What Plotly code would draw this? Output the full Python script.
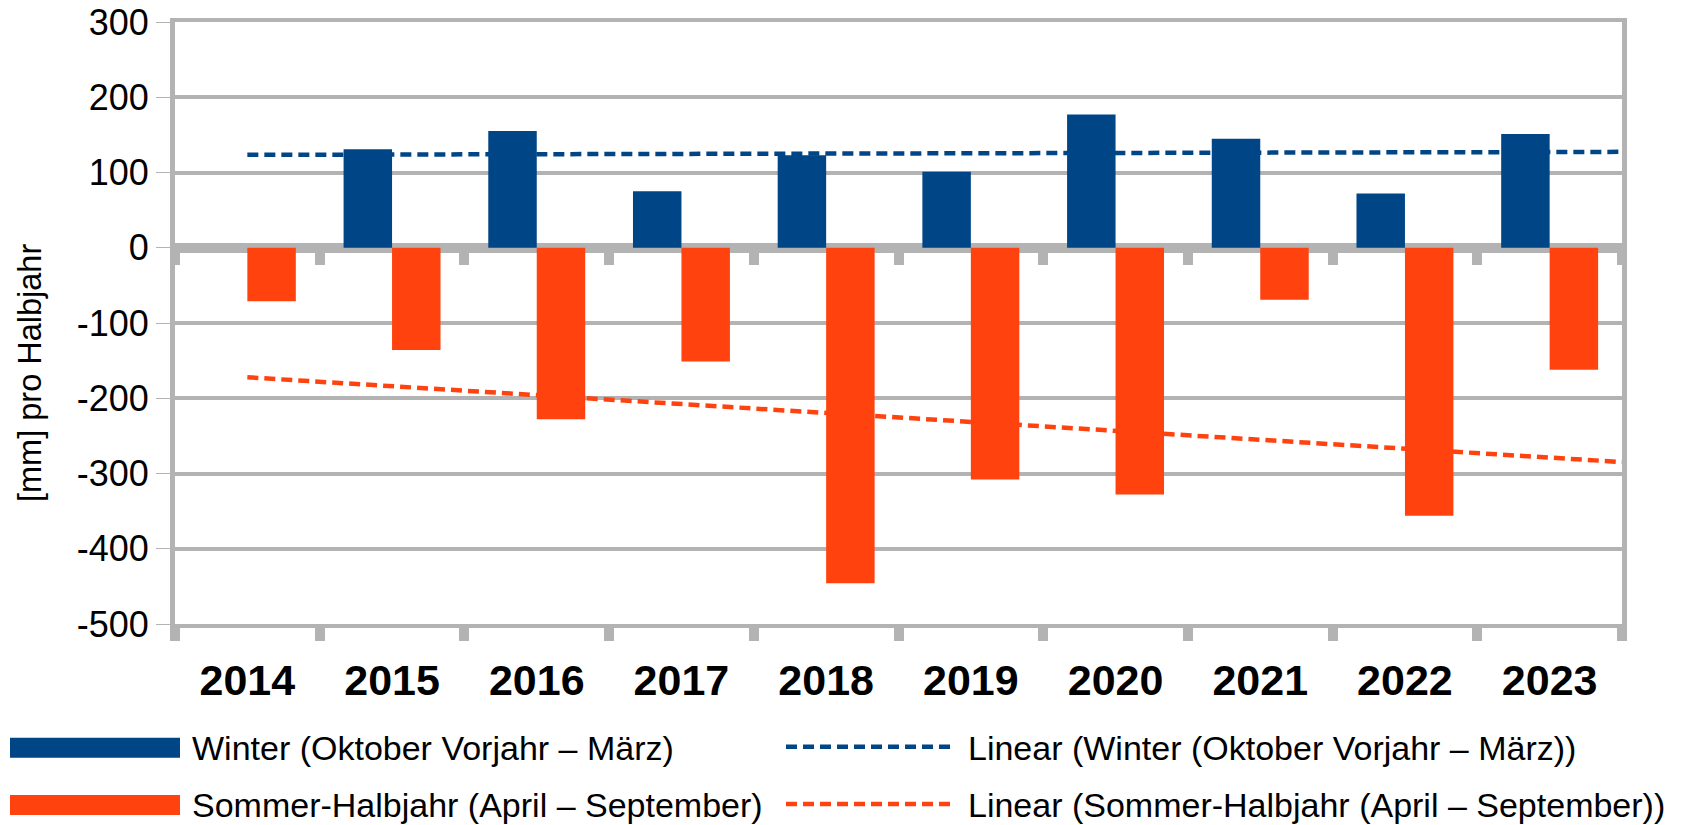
import numpy as np
import plotly.graph_objects as go

# ---------------- data ----------------
years = [2014, 2015, 2016, 2017, 2018, 2019, 2020, 2021, 2022, 2023]
winter = [None, 131, 155, 75, 123, 101, 177, 145, 72, 151]
sommer = [-71, -136, -228, -151, -446, -308, -328, -69, -356, -162]
y_ticks = [300, 200, 100, 0, -100, -200, -300, -400, -500]
name_winter = "Winter (Oktober Vorjahr – März)"
name_sommer = "Sommer-Halbjahr (April – September)"
name_lin_winter = "Linear (Winter (Oktober Vorjahr – März))"
name_lin_sommer = "Linear (Sommer-Halbjahr (April – September))"
y_title = "[mm] pro Halbjahr"

# ---------------- style ----------------
BLUE = "#004586"
ORANGE = "#ff420e"
GRAY = "#b3b3b3"
FONT = "Liberation Sans, Arial, sans-serif"
DASH = "11px,6px"

W, H = 1684, 825
ML, MR, MT, MB = 175, 62, 22, 201
PW, PH = W - ML - MR, H - MT - MB


def px(x):
    return (x - ML) / PW


def py(y):
    return (H - MB - y) / PH


def trend(xs, ys, x_eval):
    pts = [(x, y) for x, y in zip(xs, ys) if y is not None]
    a, b = np.polyfit([p[0] for p in pts], [p[1] for p in pts], 1)
    return [a * x + b for x in x_eval]


trend_x = [years[0], years[-1] + 0.5]
boundaries = [y - 0.5 for y in years] + [years[-1] + 0.5]

fig = go.Figure()
fig.add_trace(go.Bar(x=years, y=winter, name=name_winter,
                     marker=dict(color=BLUE, line=dict(width=0))))
fig.add_trace(go.Bar(x=years, y=sommer, name=name_sommer,
                     marker=dict(color=ORANGE, line=dict(width=0))))
fig.add_trace(go.Scatter(x=trend_x, y=trend(years, winter, trend_x), mode="lines",
                         name=name_lin_winter,
                         line=dict(color=BLUE, width=4.5, dash=DASH)))
fig.add_trace(go.Scatter(x=trend_x, y=trend(years, sommer, trend_x), mode="lines",
                         name=name_lin_sommer,
                         line=dict(color=ORANGE, width=4.5, dash=DASH)))
# helper trace for the tick stubs on the zero axis
fig.add_trace(go.Scatter(x=[], y=[], xaxis="x2", showlegend=False, hoverinfo="skip"))

fig.update_layout(
    width=W, height=H,
    margin=dict(l=ML, r=MR, t=MT, b=MB, pad=0, autoexpand=False),
    paper_bgcolor="white", plot_bgcolor="white",
    barmode="group", bargap=0.33, bargroupgap=0,
    showlegend=False,
    font=dict(family=FONT, color="black"),
    xaxis=dict(
        range=[years[0] - 0.5, years[-1] + 0.5],
        tickmode="array", tickvals=years, ticktext=[str(y) for y in years],
        ticks="", showgrid=False, zeroline=False, automargin=False,
        showline=True, mirror=True, linecolor=GRAY, linewidth=4,
        tickfont=dict(size=43, family=FONT, color="black", weight="bold"),
        ticklabelstandoff=15,
        minor=dict(tickmode="array", tickvals=boundaries, ticks="outside",
                   ticklen=13, tickwidth=10, tickcolor=GRAY, showgrid=False),
    ),
    xaxis2=dict(
        overlaying="x", anchor="free", position=0.625, side="bottom",
        range=[years[0] - 0.5, years[-1] + 0.5], automargin=False,
        tickmode="array", tickvals=boundaries, ticks="outside",
        ticklen=16, tickwidth=10, tickcolor=GRAY,
        showticklabels=False, showgrid=False, zeroline=False, showline=False,
    ),
    yaxis=dict(
        range=[-500, 300], tickmode="array", tickvals=y_ticks,
        ticktext=[str(v) for v in y_ticks], automargin=False,
        showgrid=True, gridcolor=GRAY, gridwidth=4,
        zeroline=True, zerolinecolor=GRAY, zerolinewidth=10,
        showline=True, mirror=True, linecolor=GRAY, linewidth=5,
        ticks="outside", ticklen=14, tickwidth=1.3, tickcolor=GRAY,
        tickfont=dict(size=36, family=FONT, color="black"),
        ticklabelstandoff=0,
    ),
)

# y-axis title
fig.add_annotation(text=y_title, xref="paper", yref="paper", x=px(30), y=py(373),
                   textangle=-90, showarrow=False, xanchor="center", yanchor="middle",
                   font=dict(size=32.5, family=FONT, color="black"))

# manual legend
legend_rows = [747.7, 805]
for (name, color), yc in zip([(name_winter, BLUE), (name_sommer, ORANGE)], legend_rows):
    fig.add_shape(type="rect", xref="paper", yref="paper",
                  x0=px(10), x1=px(180), y0=py(yc + 10), y1=py(yc - 10),
                  fillcolor=color, line=dict(width=0))
    fig.add_annotation(text=name, xref="paper", yref="paper", x=px(190), y=py(yc),
                       showarrow=False, xanchor="left", yanchor="middle",
                       font=dict(size=34, family=FONT, color="black"))
for (name, color), yc in zip([(name_lin_winter, BLUE), (name_lin_sommer, ORANGE)], legend_rows):
    fig.add_shape(type="line", xref="paper", yref="paper",
                  x0=px(786), x1=px(951), y0=py(yc - 1), y1=py(yc - 1),
                  line=dict(color=color, width=4.5, dash=DASH))
    fig.add_annotation(text=name, xref="paper", yref="paper", x=px(966), y=py(yc),
                       showarrow=False, xanchor="left", yanchor="middle",
                       font=dict(size=34, family=FONT, color="black"))

fig.write_html("out.html", config={"displayModeBar": False},
               post_script="document.body.style.margin='0';document.body.style.overflow='hidden';")
